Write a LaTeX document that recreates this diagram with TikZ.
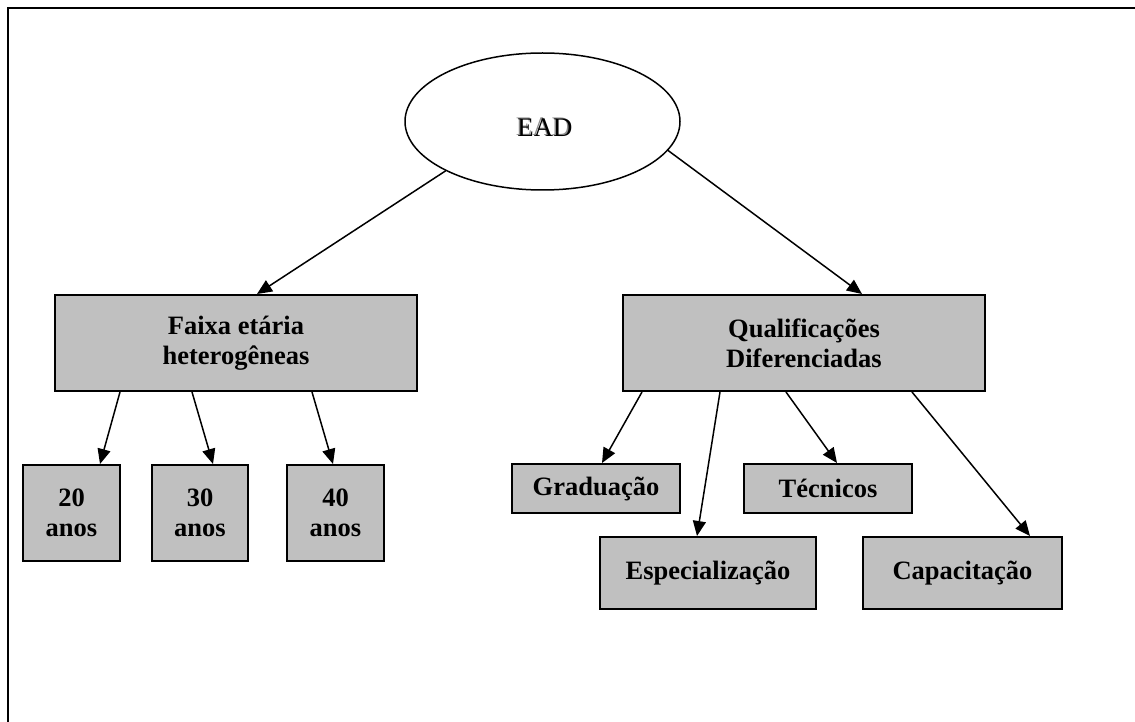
\documentclass[tikz,border=0pt]{standalone}
\usepackage{fontspec}
\setmainfont{Liberation Serif}
\usetikzlibrary{arrows.meta,shapes.geometric}
\definecolor{boxgray}{RGB}{192,192,192}
\begin{document}
\begin{tikzpicture}[x=1pt,y=-1pt,
  box/.style={draw=black,line width=2pt,fill=boxgray,rectangle,inner sep=0pt,
    align=center,font=\fontsize{26.5}{30}\selectfont\bfseries},
  link/.style={line width=1.5pt,-{Triangle[length=15pt,width=13pt]}},
  lbl/.style={inner sep=0pt,font=\fontsize{26.8}{30}\selectfont}]
\useasboundingbox (0,0) rectangle (1135,722);
% page frame (top and left rules)
\draw[line width=2pt] (7.5,722) -- (7.5,8.5) -- (1135,8.5);

% root ellipse with shadowed label
\node[draw,line width=1.5pt,ellipse,minimum width=275pt,minimum height=137pt,inner sep=0pt] (ead) at (542.5,121.5) {};
\node[lbl,text=black!45] (eadshadow) at (543.5,126.5) {EAD};
\node[lbl] (eadlabel) at (545,128) {EAD};

% second level
\node[box,minimum width=362pt,minimum height=96pt] (faixa) at (236,343) {Faixa etária\\heterogêneas};
\node[box,minimum width=362pt,minimum height=96pt] (qual) at (804,343) {Qualificações\\Diferenciadas};

% age groups
\node[box,minimum width=97pt,minimum height=96pt] (a20) at (71.5,513) {20\\anos};
\node[box,minimum width=96pt,minimum height=96pt] (a30) at (200,513) {30\\anos};
\node[box,minimum width=97pt,minimum height=96pt] (a40) at (335.5,513) {40\\anos};

% qualification types
\node[box,minimum width=168pt,minimum height=49pt] (grad) at (596,488.5) {Graduação};
\node[box,minimum width=168pt,minimum height=49pt] (tec) at (828,488.5) {Técnicos};
\node[box,minimum width=216pt,minimum height=72pt] (esp) at (708,573) {Especialização};
\node[box,minimum width=199pt,minimum height=72pt] (cap) at (962.5,573) {Capacitação};

% connectors
\draw[link] (ead.207) -- ([xshift=21pt]faixa.north);
\draw[link] (ead.347) -- ([xshift=58pt]qual.north);

\draw[link] ([xshift=-116pt]faixa.south) -- ([xshift=28.5pt]a20.north);
\draw[link] ([xshift=-44pt]faixa.south) -- ([xshift=13pt]a30.north);
\draw[link] ([xshift=76pt]faixa.south) -- ([xshift=-2.5pt]a40.north);

\draw[link] ([xshift=-162pt]qual.south) -- ([xshift=6pt]grad.north);
\draw[link] ([xshift=-84pt]qual.south) -- ([xshift=-11pt]esp.north);
\draw[link] ([xshift=-18pt]qual.south) -- ([xshift=9pt]tec.north);
\draw[link] ([xshift=108pt]qual.south) -- ([xshift=67.5pt]cap.north);
\end{tikzpicture}
\end{document}
